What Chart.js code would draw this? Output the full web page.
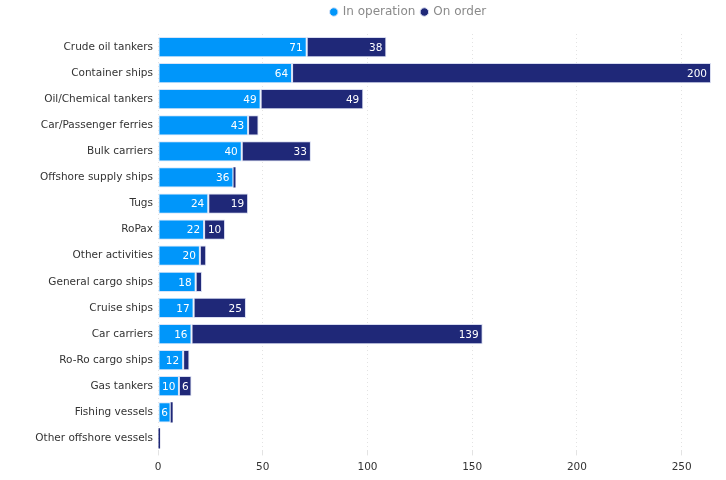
<!DOCTYPE html>
<html>
<head>
<meta charset="utf-8">
<script src="https://cdn.jsdelivr.net/npm/chart.js@4"></script>
<style>
  html, body { margin: 0; padding: 0; background: #fff; }
  #wrap { width: 726px; height: 480px; }
</style>
</head>
<body>
<div id="wrap"><canvas id="shipChart"></canvas></div>
<script>
const categories = ['Crude oil tankers', 'Container ships', 'Oil/Chemical tankers', 'Car/Passenger ferries',
  'Bulk carriers', 'Offshore supply ships', 'Tugs', 'RoPax', 'Other activities', 'General cargo ships',
  'Cruise ships', 'Car carriers', 'Ro-Ro cargo ships', 'Gas tankers', 'Fishing vessels', 'Other offshore vessels'];
const inOperation = [71, 64, 49, 43, 40, 36, 24, 22, 20, 18, 17, 16, 12, 10, 6, 0];
const onOrder = [38, 200, 49, 5, 33, 1, 19, 10, 3, 3, 25, 139, 3, 6, 1, 1];
const xTicks = [0, 50, 100, 150, 200, 250];

const FONT = '"DejaVu Sans", sans-serif';

// white value labels at the inner end of each segment
const barLabels = {
  id: 'barLabels',
  afterDatasetsDraw(chart) {
    const ctx = chart.ctx;
    ctx.save();
    ctx.font = '10.5px ' + FONT;
    ctx.fillStyle = '#ffffff';
    ctx.textBaseline = 'middle';
    chart.data.datasets.forEach((ds, i) => {
      chart.getDatasetMeta(i).data.forEach((bar, j) => {
        const v = ds.data[j];
        const w = Math.abs(bar.x - bar.base);
        if (!v || w < 12) return;
        const txt = String(v);
        const tw = ctx.measureText(txt).width;
        if (tw + 8 > w) {
          ctx.textAlign = 'center';
          ctx.fillText(txt, (bar.x + bar.base) / 2, bar.y + 1);
        } else {
          ctx.textAlign = 'right';
          ctx.fillText(txt, bar.x - 4, bar.y + 1);
        }
      });
    });
    ctx.restore();
  }
};

// taller legend box, centred a little right of the canvas middle
const legendShift = {
  id: 'legendShift',
  beforeInit(chart) {
    const fit = chart.legend.fit;
    chart.legend.fit = function () {
      fit.call(this);
      this.height = 34;
    };
  },
  afterUpdate(chart) {
    chart.legend.left += 53;
    chart.legend.right += 53;
  }
};

const edge = (c) => (c.raw <= 1 ? 0 : 1);

new Chart(document.getElementById('shipChart').getContext('2d'), {
  type: 'bar',
  data: {
    labels: categories,
    datasets: [{
      label: 'In operation',
      data: inOperation,
      backgroundColor: '#0096fa',
      borderColor: '#d8e4f8',
      borderWidth: edge,
      borderSkipped: false,
      categoryPercentage: 0.8,
      barPercentage: 0.97
    }, {
      label: 'On order',
      data: onOrder,
      backgroundColor: '#1f2878',
      borderColor: '#d8dcf0',
      borderWidth: edge,
      borderSkipped: false,
      categoryPercentage: 0.8,
      barPercentage: 0.97
    }]
  },
  options: {
    indexAxis: 'y',
    responsive: true,
    maintainAspectRatio: false,
    animation: false,
    layout: { padding: { left: 0, right: 15, top: 0, bottom: 0 } },
    plugins: {
      legend: {
        position: 'top',
        labels: {
          usePointStyle: true,
          pointStyle: 'circle',
          boxWidth: 6,
          boxHeight: 6,
          padding: 6,
          color: '#8a8a8a',
          font: { family: FONT, size: 12 }
        }
      },
      tooltip: { enabled: false }
    },
    scales: {
      x: {
        stacked: true,
        min: 0,
        max: 264,
        afterBuildTicks(axis) { axis.ticks = xTicks.map(v => ({ value: v })); },
        grid: { color: '#e3e3e3', drawTicks: true, tickLength: 4 },
        border: { display: false, dash: [1, 3] },
        ticks: { color: '#333333', padding: 6, font: { family: FONT, size: 10.5 } }
      },
      y: {
        stacked: true,
        afterFit(scale) { scale.width = 158; },
        grid: { display: false, drawTicks: false },
        border: { display: false },
        ticks: { color: '#333333', padding: 5, font: { family: FONT, size: 10.5 } }
      }
    }
  },
  plugins: [barLabels, legendShift]
});
</script>
</body>
</html>
